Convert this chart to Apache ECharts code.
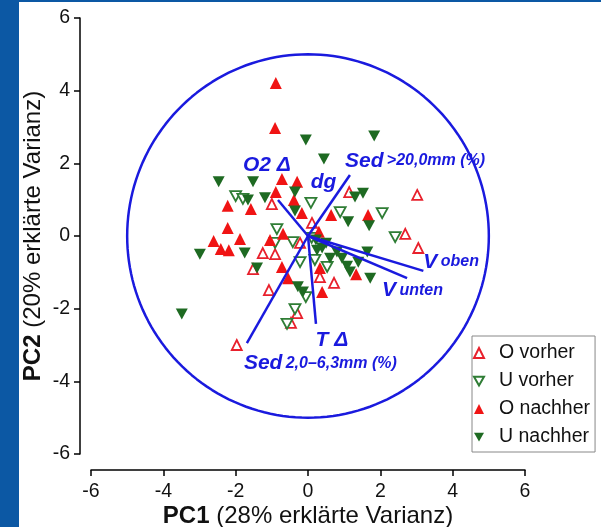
<!DOCTYPE html>
<html>
<head>
<meta charset="utf-8">
<script src="https://cdn.jsdelivr.net/npm/echarts@6/dist/echarts.min.js"></script>
<style>
  html, body { margin: 0; padding: 0; background: #fff; }
  #chart { width: 601px; height: 527px; }
</style>
</head>
<body>
<div id="chart"></div>
<script>
// Punktwolken (PC1, PC2)
var oVorher = [
    [-1.00, 0.88], [1.14, 1.21], [3.02, 1.13], [2.69, 0.06], [3.05, -0.33],
    [-1.25, -0.47], [-0.91, -0.50], [-1.52, -0.91], [0.33, -1.13], [0.72, -1.29],
    [-1.08, -1.49], [-0.30, -2.12], [-0.47, -2.39], [-1.97, -3.00], [0.11, 0.36],
    [-0.22, -0.19]
];
var uVorher = [
    [-2.00, 1.10], [-1.80, 1.02], [0.08, 0.91], [0.89, 0.66], [2.05, 0.63],
    [-0.86, 0.19], [2.41, -0.03], [-0.42, -0.17], [-0.91, -0.19], [-0.22, -0.72],
    [0.19, -0.66], [0.53, -0.85], [-0.06, -1.68], [-0.36, -2.01], [-0.58, -2.42],
    [0.10, -0.05]
];
var oNachher = [
    [-0.89, 4.21], [-0.91, 2.97], [-0.72, 1.57], [-0.30, 1.49], [-0.89, 1.21],
    [-0.39, 0.99], [-2.22, 0.83], [-1.58, 0.74], [-0.17, 0.63], [0.64, 0.58],
    [1.66, 0.58], [-2.22, 0.22], [-1.88, -0.08], [-2.61, -0.14], [-2.41, -0.36],
    [-2.19, -0.39], [-1.05, -0.11], [-0.69, 0.06], [-0.72, -0.85], [-0.55, -1.16],
    [0.33, -0.88], [0.39, -1.54], [1.33, -1.05], [0.30, 0.12]
];
var uNachher = [
    [-0.06, 2.64], [1.83, 2.75], [0.44, 2.12], [-2.47, 1.49], [-1.52, 1.49],
    [-0.36, 1.21], [-1.19, 1.05], [-1.66, 0.99], [-0.36, 0.69], [1.30, 1.07],
    [1.52, 1.18], [1.11, 0.39], [1.69, 0.28], [-2.99, -0.50], [-1.75, -0.47],
    [-1.41, -0.88], [-0.28, -1.40], [-0.14, -1.54], [-3.49, -2.15], [0.39, -0.33],
    [0.80, -0.44], [0.94, -0.61], [1.08, -0.83], [1.39, -0.72], [1.64, -0.44],
    [1.16, -0.99], [1.72, -1.16], [0.25, -0.39], [0.61, -0.61], [0.22, -0.11],
    [0.50, -0.20]
];

// Ladungsvektoren
var loadNames = ['Sed', 'O2 Δ', 'dg', 'Sed', 'T Δ', 'V', 'V'];
var loadSubs = ['>20,0mm (%)', '', '', '2,0–6,3mm (%)', '', 'oben', 'unten'];
var loadX = [1.16, -0.83, 0.65, -1.69, 0.22, 3.19, 2.74];
var loadY = [1.68, 0.99, 0.98, -2.95, -2.42, -0.96, -1.16];

var circleRadius = 5;
var legendNames = ['O vorher', 'U vorher', 'O nachher', 'U nachher'];

// Beschriftungsversatz in Pixel
var labelPos = [
    { dx: -5, dy: -14, align: 'left' },
    { dx: -11, dy: -35, align: 'center' },
    { dx: -8, dy: -18, align: 'center' },
    { dx: -3, dy: 20, align: 'left' },
    { dx: 16, dy: 16, align: 'center' },
    { dx: 0, dy: -9, align: 'left' },
    { dx: -25, dy: 12, align: 'left' }
];

var blue = '#1a1ade';
var font = 'Liberation Sans, Arial, sans-serif';
var downTri = 'path://M0,0L2,0L1,1.75Z';

var circle = [];
for (var i = 0; i <= 180; i++) {
    var a = i / 180 * Math.PI * 2;
    circle.push([circleRadius * Math.cos(a), circleRadius * Math.sin(a)]);
}

var loadings = loadX.map(function (x, i) { return [x, loadY[i]]; });

var chart = echarts.init(document.getElementById('chart'));
var option = {
    backgroundColor: '#fff',
    animation: false,
    graphic: [
        { type: 'rect', left: 0, top: 0, shape: { width: 19, height: 527 }, style: { fill: '#0c58a4' }, z: 100 },
        { type: 'rect', left: 0, top: 0, shape: { width: 601, height: 2 }, style: { fill: '#0c58a4' }, z: 100 }
    ],
    grid: { left: 91, right: 76, top: 18, bottom: 73, outerBoundsMode: 'none', containLabel: false },
    legend: {
        orient: 'vertical',
        left: 472,
        top: 336,
        data: legendNames,
        itemWidth: 10,
        itemHeight: 10,
        itemGap: 8,
        padding: [7, 5, 5, 1],
        borderColor: '#888',
        borderWidth: 1,
        borderRadius: 0,
        backgroundColor: '#fff',
        textStyle: { fontSize: 19.5, color: '#111', fontFamily: font, lineHeight: 20, padding: [0, 0, 0, 10] }
    },
    xAxis: {
        type: 'value', min: -6, max: 6, interval: 2, offset: 16,
        axisLine: { onZero: false, lineStyle: { color: '#000', width: 1.5 } },
        axisTick: { length: 6, lineStyle: { color: '#000', width: 1.5 } },
        axisLabel: { color: '#111', fontSize: 19.5, fontFamily: font, margin: 12 },
        splitLine: { show: false },
        name: '{b|PC1} (28% erklärte Varianz)',
        nameLocation: 'middle',
        nameMoveOverlap: false,
        nameGap: 34,
        nameTextStyle: { color: '#111', fontSize: 24, fontFamily: font, rich: { b: { fontSize: 24, fontWeight: 'bold', fontFamily: font, color: '#111' } } }
    },
    yAxis: {
        type: 'value', min: -6, max: 6, interval: 2, offset: 11,
        axisLine: { onZero: false, lineStyle: { color: '#000', width: 1.5 } },
        axisTick: { length: 6, lineStyle: { color: '#000', width: 1.5 } },
        axisLabel: { color: '#111', fontSize: 19.5, fontFamily: font, margin: 10 },
        splitLine: { show: false },
        name: '{b|PC2} (20% erklärte Varianz)',
        nameLocation: 'middle',
        nameMoveOverlap: false,
        nameGap: 35,
        nameTextStyle: { color: '#111', fontSize: 24, fontFamily: font, rich: { b: { fontSize: 24, fontWeight: 'bold', fontFamily: font, color: '#111' } } }
    },
    series: [
        {
            type: 'line', data: circle, showSymbol: false, silent: true,
            lineStyle: { color: blue, width: 2.5 }, z: 1
        },
        {
            name: 'O vorher', type: 'scatter', data: oVorher, symbol: 'triangle', symbolSize: 10,
            itemStyle: { color: '#fff', borderColor: '#e8202c', borderWidth: 1.8, opacity: 1 }, z: 2
        },
        {
            name: 'U vorher', type: 'scatter', data: uVorher, symbol: downTri, symbolSize: [11, 10],
            itemStyle: { color: '#fff', borderColor: '#2f7d35', borderWidth: 1.8, opacity: 1 }, z: 2
        },
        {
            name: 'O nachher', type: 'scatter', data: oNachher, symbol: 'triangle', symbolSize: 12,
            itemStyle: { color: '#f01414', opacity: 1 }, z: 3
        },
        {
            name: 'U nachher', type: 'scatter', data: uNachher, symbol: downTri, symbolSize: [12, 11],
            itemStyle: { color: '#1e6a22', opacity: 1 }, z: 3
        },
        {
            type: 'custom', data: loadings, z: 5, silent: true,
            renderItem: function (params, api) {
                var i = params.dataIndex;
                var o = api.coord([0, 0]);
                var p = api.coord([api.value(0), api.value(1)]);
                var lp = labelPos[i];
                var txt = '{a|' + loadNames[i] + '}' + (loadSubs[i] ? ' {s|' + loadSubs[i] + '}' : '');
                var children = [];
                if (loadNames[i] !== 'dg') {
                    children.push({
                        type: 'line',
                        shape: { x1: o[0], y1: o[1], x2: p[0], y2: p[1] },
                        style: { stroke: blue, lineWidth: 2.5 }
                    });
                }
                children.push({
                    type: 'text',
                    x: p[0] + lp.dx,
                    y: p[1] + lp.dy,
                    style: {
                        text: txt,
                        align: lp.align,
                        verticalAlign: 'middle',
                        fill: blue,
                        rich: {
                            a: { fontSize: 21, fontWeight: 'bold', fontStyle: 'italic', fontFamily: font, fill: blue, color: blue },
                            s: { fontSize: 16, fontWeight: 'bold', fontStyle: 'italic', fontFamily: font, fill: blue, color: blue }
                        }
                    }
                });
                return { type: 'group', children: children };
            }
        }
    ]
};
chart.setOption(option);
</script>
</body>
</html>
